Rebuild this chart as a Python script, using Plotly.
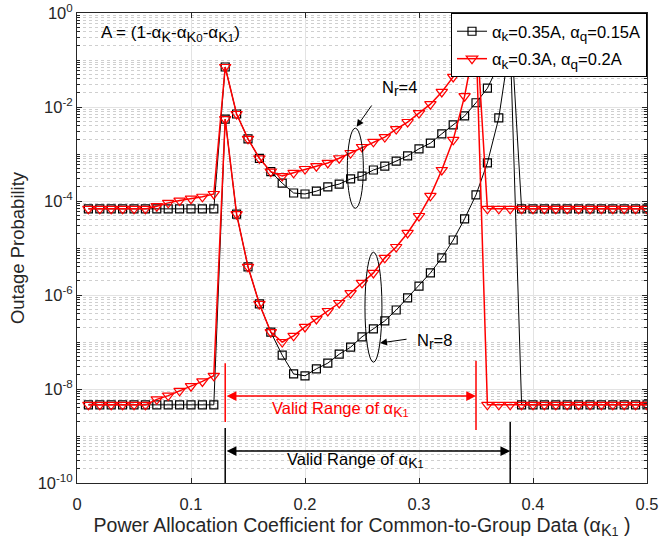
import plotly.graph_objects as go

# ---------------- data ----------------
alpha_k1 = [0.01, 0.02, 0.03, 0.04, 0.05, 0.06, 0.07, 0.08, 0.09, 0.10,
            0.11, 0.12, 0.13, 0.14, 0.15, 0.16, 0.17, 0.18, 0.19, 0.20,
            0.21, 0.22, 0.23, 0.24, 0.25, 0.26, 0.27, 0.28, 0.29, 0.30,
            0.31, 0.32, 0.33, 0.34, 0.35, 0.36, 0.37, 0.38, 0.39, 0.40,
            0.41, 0.42, 0.43, 0.44, 0.45, 0.46, 0.47, 0.48, 0.49, 0.50]

# alpha_k = 0.35A, alpha_q = 0.15A, Nr = 4
black_nr4 = [6.8e-5] * 12 + [
    7.1e-2, 7.1e-3, 2.1e-3, 8.1e-4, 4.2e-4, 2.4e-4, 1.48e-4, 1.41e-4, 1.62e-4,
    2.0e-4, 2.29e-4, 2.95e-4, 3.39e-4, 4.57e-4, 5.5e-4, 7.08e-4, 9.12e-4,
    1.29e-3, 1.7e-3, 2.69e-3, 4.17e-3, 6.46e-3, 1.23e-2, 2.51e-2, 7.94e-2, 0.89,
] + [6.8e-5] * 12

# alpha_k = 0.3A, alpha_q = 0.2A, Nr = 4
red_nr4 = [6.8e-5] * 6 + [
    7.76e-5, 9.12e-5, 1.02e-4, 1.12e-4, 1.23e-4, 1.41e-4,
    7.1e-2, 7.1e-3, 2.1e-3, 8.1e-4, 4.2e-4, 3.39e-4, 3.98e-4, 4.79e-4, 5.5e-4,
    6.46e-4, 8.13e-4, 1.05e-3, 1.41e-3, 1.82e-3, 2.29e-3, 3.39e-3, 4.79e-3,
    7.41e-3, 1.15e-2, 2.09e-2, 4.37e-2, 0.112, 0.71,
] + [6.8e-5] * 15

# alpha_k = 0.35A, alpha_q = 0.15A, Nr = 8
black_nr8 = [4.6e-9] * 12 + [
    5.5e-3, 5.25e-5, 3.98e-6, 6.46e-7, 1.62e-7, 5.25e-8, 2.09e-8, 1.91e-8,
    2.69e-8, 3.55e-8, 5.5e-8, 7.76e-8, 1.29e-7, 1.91e-7, 2.82e-7, 4.79e-7,
    8.71e-7, 1.55e-6, 2.95e-6, 6.17e-6, 1.48e-5, 4.17e-5, 1.35e-4, 6.46e-4,
    5.89e-3, 0.25,
] + [4.6e-9] * 12

# alpha_k = 0.3A, alpha_q = 0.2A, Nr = 8
red_nr8 = [4.6e-9] * 6 + [
    6.03e-9, 7.24e-9, 9.12e-9, 1.15e-8, 1.45e-8, 1.91e-8,
    5.5e-3, 5.25e-5, 3.98e-6, 6.46e-7, 1.62e-7, 1.0e-7, 1.35e-7, 2.09e-7,
    3.09e-7, 4.57e-7, 6.76e-7, 1.1e-6, 1.82e-6, 2.95e-6, 6.17e-6, 1.05e-5,
    2.09e-5, 4.79e-5, 1.29e-4, 4.57e-4, 2.0e-3, 1.7e-2, 0.32,
] + [4.6e-9] * 15

x_tickvals = [0, 0.1, 0.2, 0.3, 0.4, 0.5]
x_ticktext = ["0", "0.1", "0.2", "0.3", "0.4", "0.5"]
y_tickvals = [1e-10, 1e-8, 1e-6, 1e-4, 1e-2, 1e0]
y_ticktext = ["10<sup>-10</sup>", "10<sup>-8</sup>", "10<sup>-6</sup>",
              "10<sup>-4</sup>", "10<sup>-2</sup>", "10<sup>0</sup>"]


def sub(s, px):
    return f'<sub><span style="font-size:{px}px">{s}</span></sub>'


legend_black = f"α{sub('k', 13.5)}=0.35A, α{sub('q', 13.5)}=0.15A"
legend_red = f"α{sub('k', 13.5)}=0.3A, α{sub('q', 13.5)}=0.2A"

# ---------------- figure ----------------
FONT = "Liberation Sans, Arial, Helvetica, sans-serif"
TXT = "#262626"
RED = "#ff0000"

fig = go.Figure()
fig.add_trace(go.Scatter(x=alpha_k1, y=black_nr4, mode="lines+markers", name=legend_black,
                         legendgroup="black",
                         line=dict(color="black", width=1),
                         marker=dict(symbol="square-open", size=8, color="black", line=dict(width=1.2))))
fig.add_trace(go.Scatter(x=alpha_k1, y=black_nr8, mode="lines+markers", name=legend_black, showlegend=False,
                         legendgroup="black",
                         line=dict(color="black", width=1),
                         marker=dict(symbol="square-open", size=8, color="black", line=dict(width=1.2))))
fig.add_trace(go.Scatter(x=alpha_k1, y=red_nr4, mode="lines+markers", name=legend_red,
                         legendgroup="red",
                         line=dict(color=RED, width=1.5),
                         marker=dict(symbol="triangle-down-open", size=10, color=RED, line=dict(width=1.2))))
fig.add_trace(go.Scatter(x=alpha_k1, y=red_nr8, mode="lines+markers", name=legend_red, showlegend=False,
                         legendgroup="red",
                         line=dict(color=RED, width=1.5),
                         marker=dict(symbol="triangle-down-open", size=10, color=RED, line=dict(width=1.2))))

shapes = [
    # ellipses marking the Nr groups
    dict(type="circle", xref="x", yref="y", x0=0.2371, x1=0.2512, y0=10**-4.155, y1=10**-2.45,
         line=dict(color="black", width=1)),
    dict(type="circle", xref="x", yref="y", x0=0.2526, x1=0.2675, y0=10**-7.43, y1=10**-5.09,
         line=dict(color="black", width=1)),
    # valid range markers (red)
    dict(type="line", xref="x", yref="y", x0=0.13, x1=0.13, y0=10**-8.70, y1=10**-7.45,
         line=dict(color=RED, width=1.5)),
    dict(type="line", xref="x", yref="y", x0=0.35, x1=0.35, y0=10**-8.87, y1=10**-7.40,
         line=dict(color=RED, width=1.5)),
    # valid range markers (black)
    dict(type="line", xref="x", yref="y", x0=0.13, x1=0.13, y0=1e-10, y1=10**-8.83,
         line=dict(color="black", width=1.5)),
    dict(type="line", xref="x", yref="y", x0=0.38, x1=0.38, y0=1e-10, y1=10**-8.70,
         line=dict(color="black", width=1.5)),
]

annotations = [
    dict(x=0.0193, y=-0.44, xref="x", yref="y", xanchor="left", yanchor="middle", showarrow=False,
         text=f"A = (1-α{sub('K', 14.5)}-α{sub('K', 14.5)}{sub('0', 11.5)}-α{sub('K', 14.5)}{sub('1', 11.5)})",
         font=dict(size=17, color="black", family=FONT)),
    dict(x=0.2658, y=-1.6, xref="x", yref="y", xanchor="left", yanchor="middle", showarrow=False,
         text=f"N{sub('r', 14)}=4", font=dict(size=16.5, color="black", family=FONT)),
    dict(x=0.2965, y=-6.99, xref="x", yref="y", xanchor="left", yanchor="middle", showarrow=False,
         text=f"N{sub('r', 14)}=8", font=dict(size=16.5, color="black", family=FONT)),
    # arrows to ellipses
    dict(x=0.2453, y=-2.419, ax=0.2594, ay=-1.936, xref="x", yref="y", axref="x", ayref="y",
         text="", showarrow=True, arrowhead=2, arrowsize=1.4, arrowwidth=1, arrowcolor="black"),
    dict(x=0.2658, y=-7.021, ax=0.2904, ay=-6.936, xref="x", yref="y", axref="x", ayref="y",
         text="", showarrow=True, arrowhead=2, arrowsize=1.4, arrowwidth=1, arrowcolor="black"),
    # double arrows
    dict(x=0.35, y=-8.149, ax=0.13, ay=-8.149, xref="x", yref="y", axref="x", ayref="y",
         text="", showarrow=True, arrowhead=2, arrowside="end+start", arrowsize=1.3,
         arrowwidth=1.5, arrowcolor=RED),
    dict(x=0.38, y=-9.32, ax=0.13, ay=-9.32, xref="x", yref="y", axref="x", ayref="y",
         text="", showarrow=True, arrowhead=2, arrowside="end+start", arrowsize=1.3,
         arrowwidth=1.5, arrowcolor="black"),
    dict(x=0.1693, y=-8.44, xref="x", yref="y", xanchor="left", yanchor="middle", showarrow=False,
         text=f"Valid Range of α{sub('K', 14)}{sub('1', 11)}", font=dict(size=16.5, color=RED, family=FONT)),
    dict(x=0.1825, y=-9.52, xref="x", yref="y", xanchor="left", yanchor="middle", showarrow=False,
         text=f"Valid Range of α{sub('K', 14)}{sub('1', 11)}", font=dict(size=16.5, color="black", family=FONT)),
]

fig.update_layout(
    width=659, height=555,
    margin=dict(l=77, r=12, t=13, b=72),
    paper_bgcolor="white", plot_bgcolor="white",
    font=dict(family=FONT, size=16, color=TXT),
    shapes=shapes, annotations=annotations,
    legend=dict(x=1, y=1, xanchor="right", yanchor="top", bgcolor="white",
                bordercolor="black", borderwidth=1, font=dict(size=16.5, color="black"),
                traceorder="grouped", tracegroupgap=3),
    xaxis=dict(range=[0, 0.5], tickvals=x_tickvals, ticktext=x_ticktext, automargin=False,
               ticks="inside", ticklen=5, tickcolor=TXT, showline=True, linecolor=TXT,
               linewidth=1, mirror="ticks", showgrid=True, gridcolor="#e3e3e3", zeroline=False,
               tickfont=dict(size=16.5, color=TXT), ticklabelstandoff=6,
               title=dict(text=f"Power Allocation Coefficient for Common-to-Group Data (α{sub('K', 16)}{sub('1', 12.5)} )",
                          font=dict(size=19.5, color=TXT), standoff=6)),
    yaxis=dict(type="log", range=[-10, 0], tickvals=y_tickvals, ticktext=y_ticktext, automargin=False,
               ticks="inside", ticklen=5, tickcolor=TXT, showline=True, linecolor=TXT,
               linewidth=1, mirror="ticks", showgrid=True, gridcolor="#e3e3e3", zeroline=False,
               tickfont=dict(size=16.5, color=TXT),
               minor=dict(dtick="D1", ticks="inside", ticklen=3, tickcolor=TXT,
                          showgrid=True, gridcolor="#cfcfcf", griddash="dot", gridwidth=1),
               title=dict(text="Outage Probability", font=dict(size=18.5, color=TXT), standoff=8)),
)

fig.write_html("out.html", config={"displayModeBar": False},
               post_script="document.body.style.margin='0px';")
